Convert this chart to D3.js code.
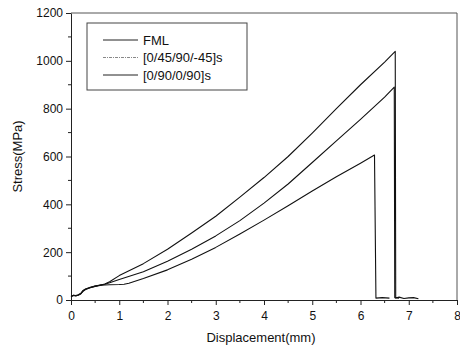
<!DOCTYPE html>
<html>
<head>
<meta charset="utf-8">
<script src="https://cdn.jsdelivr.net/npm/d3@7"></script>
<style>
  body { margin: 0; background: #fff; }
  svg { display: block; font-family: "Liberation Sans", Arial, sans-serif; }
  .axis path, .axis line { stroke: #222; }
  .axis text { font-size: 12px; fill: #111; }
</style>
</head>
<body>
<svg id="chart" width="460" height="349"></svg>
<script>
"use strict";

// series names as in the legend
var seriesNames = ["FML", "[0/45/90/-45]s", "[0/90/0/90]s"];

// displacement (mm) and stress (MPa)
var fmlX = [0, 0.05, 0.1, 0.15, 0.2, 0.25, 0.3, 0.4, 0.5, 0.6, 0.7, 0.8, 1.0, 1.5, 2.0, 2.5, 3.0, 3.5, 4.0, 4.5, 5.0, 5.5, 6.0, 6.5, 6.72, 6.73, 6.8, 6.9, 7.0, 7.1, 7.2];
var fmlY = [15, 20, 18, 20, 25, 38, 45, 52, 58, 62, 67, 76, 102, 152, 212, 280, 350, 430, 512, 600, 698, 800, 900, 995, 1040, 8, 12, 6, 9, 10, 5];

var quasiX = [0, 0.05, 0.1, 0.15, 0.2, 0.25, 0.3, 0.4, 0.5, 0.6, 0.7, 0.8, 1.0, 1.1, 1.2, 1.5, 2.0, 2.5, 3.0, 3.5, 4.0, 4.5, 5.0, 5.5, 6.0, 6.29, 6.32, 6.45, 6.6];
var quasiY = [14, 19, 17, 21, 26, 36, 44, 51, 57, 61, 63, 64, 65, 66, 70, 90, 126, 170, 220, 276, 334, 394, 456, 515, 572, 606, 8, 10, 8];

var crossX = [0, 0.05, 0.1, 0.15, 0.2, 0.25, 0.3, 0.4, 0.5, 0.6, 0.7, 0.8, 1.0, 1.5, 2.0, 2.5, 3.0, 3.5, 4.0, 4.5, 5.0, 5.5, 6.0, 6.5, 6.7, 6.71, 6.8];
var crossY = [16, 20, 19, 22, 27, 40, 46, 53, 58, 63, 66, 72, 86, 118, 162, 212, 268, 332, 405, 485, 575, 665, 755, 848, 890, 10, 8];

var xTicks = [0, 1, 2, 3, 4, 5, 6, 7, 8];
var yTicks = [0, 200, 400, 600, 800, 1000, 1200];

var series = [
  { name: seriesNames[0], xs: fmlX, ys: fmlY },
  { name: seriesNames[1], xs: quasiX, ys: quasiY },
  { name: seriesNames[2], xs: crossX, ys: crossY }
];

var margin = { top: 13, right: 3, bottom: 49, left: 71 };
var width = 460 - margin.left - margin.right;
var height = 349 - margin.top - margin.bottom;

var svg = d3.select("#chart");
var chart = svg.append("g").attr("transform", "translate(" + margin.left + "," + margin.top + ")");

var x = d3.scaleLinear().domain([0, 8]).range([0, width]);
var y = d3.scaleLinear().domain([0, 1200]).range([height, 0]);

// frame (top and right)
chart.append("path")
  .attr("d", "M0,0H" + width + "V" + height)
  .attr("fill", "none").attr("stroke", "#555").attr("stroke-width", 1);

// minor ticks
chart.append("g").selectAll("line").data(d3.range(0.5, 8, 1)).enter().append("line")
  .attr("x1", function (d) { return x(d); }).attr("x2", function (d) { return x(d); })
  .attr("y1", height).attr("y2", height + 3).attr("stroke", "#222");
chart.append("g").selectAll("line").data(d3.range(100, 1200, 200)).enter().append("line")
  .attr("y1", function (d) { return y(d); }).attr("y2", function (d) { return y(d); })
  .attr("x1", 0).attr("x2", -3).attr("stroke", "#222");

// axes
chart.append("g").attr("class", "x axis").attr("transform", "translate(0," + height + ")")
  .call(d3.axisBottom(x).tickValues(xTicks).tickFormat(d3.format("d")).tickSize(5).tickPadding(6).tickSizeOuter(0));
chart.append("g").attr("class", "y axis")
  .call(d3.axisLeft(y).tickValues(yTicks).tickFormat(d3.format("d")).tickSize(5).tickPadding(3).tickSizeOuter(0));

// curves
var line = d3.line()
  .x(function (d) { return x(d[0]); })
  .y(function (d) { return y(d[1]); });

chart.selectAll(".curve").data(series).enter().append("path")
  .attr("class", "curve")
  .attr("d", function (s) { return line(d3.zip(s.xs, s.ys)); })
  .attr("fill", "none")
  .attr("stroke", "#111")
  .attr("stroke-width", 1.1)
  .attr("stroke-linejoin", "round");

// axis titles
svg.append("text")
  .attr("transform", "translate(22," + (margin.top + height / 2) + ") rotate(-90)")
  .attr("text-anchor", "middle").attr("font-size", 13).attr("fill", "#111")
  .text("Stress(MPa)");
svg.append("text")
  .attr("x", margin.left + width / 2 - 3).attr("y", 342)
  .attr("text-anchor", "middle").attr("font-size", 13).attr("fill", "#111")
  .text("Displacement(mm)");

// legend
var legend = chart.append("g").attr("class", "legend").attr("transform", "translate(16,10)");
legend.append("rect")
  .attr("width", 160).attr("height", 67)
  .attr("fill", "#fff").attr("stroke", "#444").attr("stroke-width", 1);
var item = legend.selectAll(".item").data(series).enter().append("g")
  .attr("class", "item")
  .attr("transform", function (d, i) { return "translate(0," + (17 + i * 17.5) + ")"; });
item.append("line")
  .attr("x1", 16).attr("x2", 51)
  .attr("stroke", function (d, i) { return i === 1 ? "#888" : "#222"; })
  .attr("stroke-dasharray", function (d, i) { return i === 1 ? "3,1,1,1" : null; })
  .attr("stroke-width", 1);
item.append("text")
  .attr("x", 56).attr("dy", "0.35em")
  .attr("font-size", 13).attr("fill", "#111")
  .text(function (d) { return d.name; });
</script>
</body>
</html>
